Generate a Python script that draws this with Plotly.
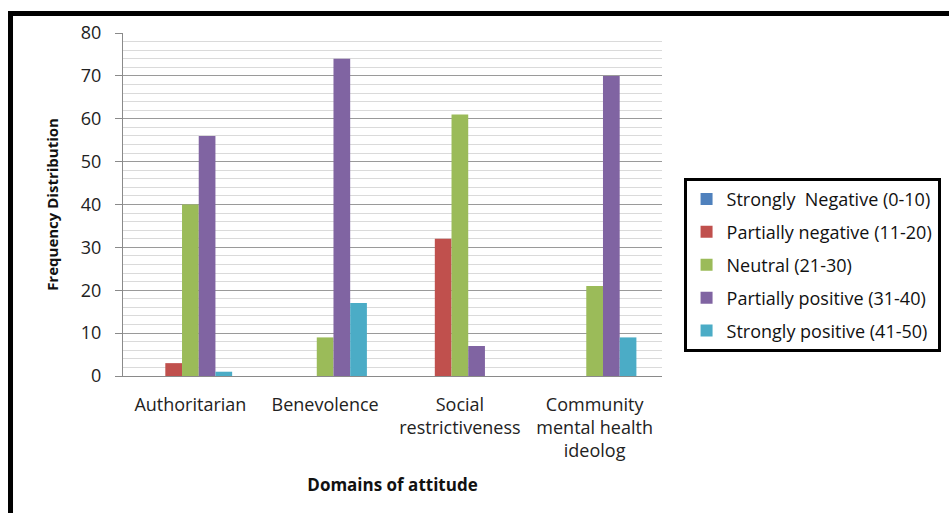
import plotly.graph_objects as go

categories = ["Authoritarian", "Benevolence", "Social<br>restrictiveness", "Community<br>mental health<br>ideolog"]
series_names = ["Strongly  Negative (0-10)", "Partially negative (11-20)", "Neutral (21-30)",
                "Partially positive (31-40)", "Strongly positive (41-50)"]
strongly_negative = [0, 0, 0, 0]
partially_negative = [3, 0, 32, 0]
neutral = [40, 9, 61, 21]
partially_positive = [56, 74, 7, 70]
strongly_positive = [1, 17, 0, 9]
values = [strongly_negative, partially_negative, neutral, partially_positive, strongly_positive]
colors = ["#4F81BD", "#C0504D", "#9BBB59", "#8064A2", "#4BACC6"]
y_ticks = [0, 10, 20, 30, 40, 50, 60, 70, 80]

FONT = "Open Sans"

fig = go.Figure()
for i, (name, vals, col) in enumerate(zip(series_names, values, colors)):
    fig.add_trace(go.Bar(x=categories, y=vals, name=name, marker_color=col,
                         marker_line_width=0, legendgroup=f"g{i}"))

fig.update_layout(
    width=949, height=513,
    margin=dict(l=123, r=287, t=33, b=137, autoexpand=False),
    paper_bgcolor="white", plot_bgcolor="white",
    barmode="group", bargap=0.38, bargroupgap=0,
    font=dict(family=FONT, color="#222", size=17),
    showlegend=True,
    legend=dict(x=1.04, xanchor="left", y=0.578, yanchor="top",
                bordercolor="black", borderwidth=3, bgcolor="white",
                font=dict(family=FONT, size=18, color="#111"),
                tracegroupgap=6.5, itemwidth=30),
    shapes=[dict(type="rect", xref="paper", yref="paper",
                 x0=-0.2087, x1=1.7, y0=-0.6, y1=1.057,
                 line=dict(color="black", width=5), fillcolor="rgba(0,0,0,0)", layer="above")],
)
fig.update_yaxes(range=[0, 80], tickvals=y_ticks, showgrid=True, gridcolor="#9a9a9a", gridwidth=1,
                 minor=dict(dtick=2, showgrid=True, gridcolor="#dadada", gridwidth=1),
                 ticks="outside", ticklen=7, tickcolor="#8a8a8a",
                 showline=True, linecolor="#8a8a8a", linewidth=1,
                 ticklabelstandoff=10,
                 tickfont=dict(family=FONT, size=18, color="#222"),
                 title=dict(text="<b>Frequency Distribution</b>", standoff=18,
                            font=dict(family=FONT, size=15, color="#111")),
                 zeroline=False)
fig.update_xaxes(showline=True, linecolor="#8a8a8a", linewidth=1, ticks="",
                 ticklabelstandoff=12,
                 tickfont=dict(family=FONT, size=18, color="#222"),
                 title=dict(text="<b>Domains of attitude</b>", standoff=17,
                            font=dict(family=FONT, size=17, color="#111")))

fig.write_html("out.html")
